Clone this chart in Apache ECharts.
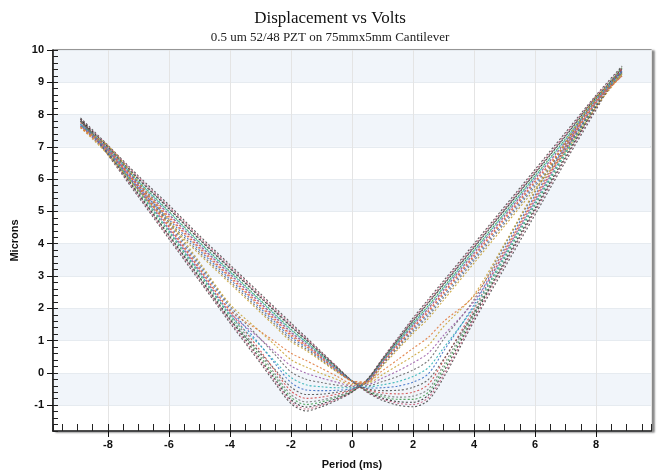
<!DOCTYPE html>
<html><head><meta charset="utf-8">
<script src="https://cdn.jsdelivr.net/npm/echarts@6/dist/echarts.min.js"></script>
<style>html,body{margin:0;padding:0;background:#fff}#c{width:660px;height:475px}</style>
</head><body><div id="c"></div>
<script>
// Shared voltage grid (x values)
const xGrid = [-8.9,-8,-7,-6,-5,-4,-3,-2.5,-2,-1.5,-1,-0.5,0,0.5,1,1.5,2,2.5,3,4,5,6,7,8,8.85];

// Each loop: "up" branch (sweep -9 -> +9) and "down" branch (sweep +9 -> -9), both listed in ascending x
const loop1Up    = [7.9,7.05,6.1,5.2,4.25,3.35,2.45,2.0,1.55,1.1,0.65,0.2,-0.25,-0.60,-0.85,-1.00,-1.05,-0.85,-0.15,1.60,3.25,4.9,6.55,8.15,9.5];
const loop1Down  = [7.9,6.75,5.45,4.15,2.85,1.55,0.30,-0.35,-0.95,-1.18,-1.05,-0.85,-0.60,-0.20,0.45,1.08,1.7,2.28,2.85,4.0,5.15,6.3,7.45,8.6,9.5];
const loop2Up    = [7.85,7.03,6.06,5.15,4.2,3.3,2.4,1.95,1.5,1.07,0.63,0.19,-0.25,-0.59,-0.81,-0.94,-0.98,-0.77,-0.07,1.67,3.35,5.0,6.63,8.2,9.45];
const loop2Down  = [7.85,6.78,5.49,4.2,2.9,1.6,0.36,-0.29,-0.89,-1.12,-1.00,-0.82,-0.59,-0.21,0.43,1.05,1.66,2.23,2.8,3.95,5.1,6.25,7.4,8.57,9.45];
const loop3Up    = [7.85,6.99,6.0,5.08,4.13,3.23,2.33,1.88,1.43,1.02,0.59,0.16,-0.25,-0.57,-0.78,-0.89,-0.91,-0.69,0.03,1.74,3.45,5.1,6.71,8.25,9.4];
const loop3Down  = [7.85,6.81,5.55,4.27,2.97,1.67,0.42,-0.22,-0.83,-1.06,-0.96,-0.79,-0.58,-0.22,0.40,1.01,1.60,2.16,2.73,3.88,5.03,6.18,7.33,8.53,9.4];
const loop4Up    = [7.8,6.95,5.94,5.0,4.05,3.15,2.25,1.8,1.35,0.96,0.55,0.14,-0.25,-0.56,-0.73,-0.82,-0.82,-0.60,0.14,1.82,3.55,5.2,6.79,8.3,9.45];
const loop4Down  = [7.8,6.85,5.61,4.35,3.05,1.75,0.50,-0.14,-0.75,-0.98,-0.90,-0.75,-0.57,-0.24,0.37,0.96,1.54,2.08,2.65,3.8,4.95,6.1,7.25,8.48,9.45];
const loop5Up    = [7.8,6.91,5.88,4.92,3.97,3.07,2.17,1.72,1.27,0.90,0.51,0.12,-0.25,-0.54,-0.68,-0.75,-0.72,-0.50,0.24,1.89,3.65,5.3,6.87,8.35,9.35];
const loop5Down  = [7.8,6.89,5.67,4.43,3.13,1.83,0.58,-0.06,-0.67,-0.90,-0.84,-0.72,-0.55,-0.26,0.34,0.91,1.48,2.0,2.57,3.72,4.87,6.02,7.17,8.43,9.35];
const loop6Up    = [7.75,6.87,5.81,4.84,3.89,2.99,2.09,1.64,1.19,0.85,0.47,0.09,-0.25,-0.52,-0.62,-0.65,-0.60,-0.36,0.38,1.98,3.75,5.4,6.95,8.4,9.4];
const loop6Down  = [7.75,6.93,5.74,4.51,3.21,1.91,0.68,0.04,-0.56,-0.79,-0.75,-0.66,-0.53,-0.27,0.31,0.86,1.41,1.92,2.49,3.64,4.79,5.94,7.09,8.38,9.4];
const loop7Up    = [7.8,7.0,6.02,5.1,4.15,3.25,2.35,1.9,1.45,1.03,0.6,0.17,-0.25,-0.49,-0.55,-0.54,-0.45,-0.21,0.42,1.85,3.4,5.05,6.67,8.23,9.3];
const loop7Down  = [7.8,6.8,5.53,4.25,2.95,1.65,0.61,0.08,-0.44,-0.67,-0.66,-0.60,-0.51,-0.22,0.41,1.02,1.62,2.18,2.75,3.9,5.05,6.2,7.35,8.54,9.3];
const loop8Up    = [7.7,6.83,5.74,4.75,3.8,2.9,2.0,1.55,1.1,0.79,0.43,0.07,-0.25,-0.47,-0.46,-0.41,-0.29,-0.03,0.67,2.11,3.85,5.5,7.03,8.45,9.35];
const loop8Down  = [7.7,6.98,5.81,4.6,3.3,2.0,0.85,0.26,-0.30,-0.53,-0.55,-0.54,-0.49,-0.29,0.27,0.81,1.34,1.83,2.4,3.55,4.7,5.85,7.0,8.33,9.35];
const loop9Up    = [7.7,6.94,5.92,4.98,4.03,3.13,2.23,1.78,1.33,0.95,0.54,0.13,-0.25,-0.43,-0.37,-0.27,-0.11,0.16,0.77,2.04,3.6,5.25,6.83,8.33,9.25];
const loop9Down  = [7.7,6.88,5.65,4.4,3.1,1.8,0.84,0.33,-0.14,-0.37,-0.43,-0.46,-0.46,-0.24,0.36,0.95,1.52,2.06,2.63,3.78,4.93,6.08,7.23,8.47,9.25];
const loop10Up   = [7.65,6.79,5.68,4.68,3.73,2.83,1.93,1.48,1.03,0.74,0.39,0.04,-0.25,-0.40,-0.27,-0.11,0.09,0.38,1.04,2.27,3.95,5.6,7.11,8.5,9.3];
const loop10Down = [7.65,7.01,5.87,4.67,3.37,2.07,1.05,0.54,0.03,-0.20,-0.30,-0.38,-0.43,-0.30,0.24,0.77,1.28,1.76,2.33,3.48,4.63,5.78,6.93,8.29,9.3];
const loop11Up   = [7.65,6.9,5.86,4.9,3.95,3.05,2.15,1.7,1.25,0.89,0.5,0.11,-0.25,-0.36,-0.16,0.06,0.31,0.61,1.16,2.21,3.7,5.35,6.91,8.38,9.2];
const loop11Down = [7.65,6.91,5.71,4.47,3.17,1.87,1.05,0.63,0.22,-0.01,-0.16,-0.29,-0.40,-0.26,0.33,0.9,1.46,1.98,2.55,3.7,4.85,6.0,7.15,8.42,9.2];
const loop12Up   = [7.6,6.76,5.64,4.62,3.67,2.77,1.87,1.42,0.97,0.69,0.36,0.03,-0.25,-0.32,-0.05,0.23,0.52,0.85,1.43,2.42,4.0,5.65,7.15,8.53,9.25];
const loop12Down = [7.6,7.04,5.91,4.73,3.43,2.13,1.27,0.84,0.41,0.18,-0.02,-0.20,-0.37,-0.32,0.21,0.72,1.22,1.68,2.25,3.4,4.55,5.7,6.85,8.24,9.25];
const loop13Up   = [7.6,6.85,5.78,4.8,3.85,2.95,2.05,1.6,1.15,0.82,0.45,0.08,-0.25,-0.28,0.07,0.41,0.76,1.10,1.59,2.38,3.8,5.45,6.99,8.43,9.2];
const loop13Down = [7.6,6.95,5.77,4.55,3.25,1.95,1.28,0.95,0.61,0.38,0.14,-0.10,-0.33,-0.28,0.29,0.84,1.38,1.88,2.45,3.6,4.75,5.9,7.05,8.36,9.2];

const loops = [
  {name:'Loop 1', up:loop1Up, down:loop1Down},
  {name:'Loop 2', up:loop2Up, down:loop2Down},
  {name:'Loop 3', up:loop3Up, down:loop3Down},
  {name:'Loop 4', up:loop4Up, down:loop4Down},
  {name:'Loop 5', up:loop5Up, down:loop5Down},
  {name:'Loop 6', up:loop6Up, down:loop6Down},
  {name:'Loop 7', up:loop7Up, down:loop7Down},
  {name:'Loop 8', up:loop8Up, down:loop8Down},
  {name:'Loop 9', up:loop9Up, down:loop9Down},
  {name:'Loop 10', up:loop10Up, down:loop10Down},
  {name:'Loop 11', up:loop11Up, down:loop11Down},
  {name:'Loop 12', up:loop12Up, down:loop12Down},
  {name:'Loop 13', up:loop13Up, down:loop13Down}
];
const colors = ['#4a4a4a','#c9607f','#333333','#42a052','#7a7a7a','#d24b4b','#555555','#3c6fc4','#30b2b6','#6a6a6a','#9b5ba9','#c9a234','#e07a3c'];

const series = loops.map((lp, k) => {
  const pts = [];
  for (let i = 0; i < xGrid.length; i++) pts.push([xGrid[i], lp.up[i]]);
  for (let i = xGrid.length - 1; i >= 0; i--) pts.push([xGrid[i], lp.down[i]]);
  return {
    name: lp.name, type: 'line', data: pts, showSymbol: false, smooth: 0.3,
    xAxisIndex: 0, yAxisIndex: 0, silent: true,
    lineStyle: {width: 1.1, type: [2, 2], color: colors[k % colors.length], opacity: 0.9}
  };
});

const labelFont = {fontFamily: 'Liberation Sans, Arial, sans-serif', fontWeight: 'bold', fontSize: 11, color: '#111'};
const chart = echarts.init(document.getElementById('c'), null, {renderer: 'canvas'});
chart.setOption({
  animation: false,
  backgroundColor: '#fff',
  title: {
    text: 'Displacement vs Volts',
    subtext: '0.5 um 52/48 PZT on 75mmx5mm Cantilever',
    left: 'center', top: 5, itemGap: 4,
    textStyle: {fontFamily: 'Liberation Serif, Times New Roman, serif', fontSize: 17, fontWeight: 'normal', color: '#111'},
    subtextStyle: {fontFamily: 'Liberation Serif, Times New Roman, serif', fontSize: 13, color: '#222'}
  },
  grid: {
    left: 53, right: 9, top: 50, bottom: 36, show: true,
    backgroundColor: '#fff', borderColor: '#444', borderWidth: 1.2,
    shadowColor: 'rgba(0,0,0,0.45)', shadowOffsetX: 3, shadowOffsetY: 1, shadowBlur: 2
  },
  xAxis: [
    {
      type: 'value', min: -9.8, max: 9.8, splitNumber: 10, position: 'bottom',
      name: 'Period (ms)', nameLocation: 'middle', nameGap: 28, nameTextStyle: labelFont,
      axisLine: {show: true, onZero: false, lineStyle: {color: '#111', width: 1.5}},
      axisTick: {show: true, inside: false, length: 6, lineStyle: {color: '#111'}},
      axisLabel: Object.assign({margin: 8, showMinLabel: false, showMaxLabel: false}, labelFont),
      splitLine: {show: true, lineStyle: {color: '#e4e4e4', width: 1}}
    },
    {
      type: 'value', min: -9.8, max: 9.8, splitNumber: 40, position: 'bottom',
      axisLine: {show: false, onZero: false}, axisLabel: {show: false}, splitLine: {show: false},
      axisTick: {show: true, inside: true, length: 7, lineStyle: {color: '#222'}}
    }
  ],
  yAxis: [
    {
      type: 'value', min: -1.8, max: 10, splitNumber: 12, position: 'left',
      name: 'Microns', nameLocation: 'middle', nameGap: 26, nameTextStyle: labelFont,
      axisLine: {show: true, onZero: false, lineStyle: {color: '#111', width: 1.5}},
      axisTick: {show: true, inside: false, length: 6, lineStyle: {color: '#111'}},
      axisLabel: Object.assign({margin: 9, showMinLabel: false}, labelFont),
      splitLine: {show: true, lineStyle: {color: '#e6ebf0', width: 1}},
      splitArea: {show: true, areaStyle: {color: ['#ffffff', '#f1f5fa']}}
    },
    {
      type: 'value', min: -1.8, max: 10, splitNumber: 59, position: 'left',
      axisLine: {show: false, onZero: false}, axisLabel: {show: false}, splitLine: {show: false},
      axisTick: {show: true, inside: true, length: 5, lineStyle: {color: '#222'}}
    }
  ],
  series: series
});
</script></body></html>
